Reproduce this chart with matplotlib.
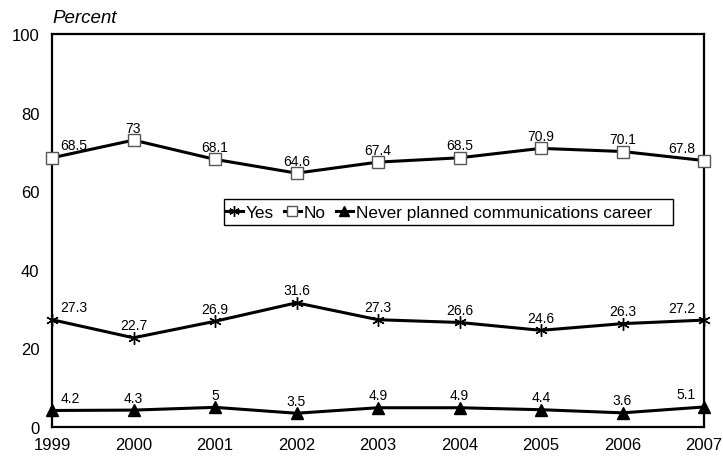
import matplotlib.pyplot as plt
from matplotlib.patches import Rectangle
import numpy as np

plt.rcParams['font.family'] = ['Liberation Sans', 'DejaVu Sans']

years = [1999, 2000, 2001, 2002, 2003, 2004, 2005, 2006, 2007]
yes = [27.3, 22.7, 26.9, 31.6, 27.3, 26.6, 24.6, 26.3, 27.2]
no = [68.5, 73, 68.1, 64.6, 67.4, 68.5, 70.9, 70.1, 67.8]
never = [4.2, 4.3, 5, 3.5, 4.9, 4.9, 4.4, 3.6, 5.1]
labels = ['Yes', 'No', 'Never planned communications career']

fig = plt.figure(figsize=(7.23, 4.6), dpi=100)
ax = fig.add_axes([52/723, 1 - 428/460, 652/723, 393/460])

ax.plot(years, yes, color='black', lw=2.2, marker=(6, 2, 0), ms=9, mew=1,
        label=labels[0], clip_on=False, zorder=3)
ax.plot(years, no, color='black', lw=2.2, marker='s', ms=8.5, mfc='white',
        mec='#555555', mew=1, label=labels[1], clip_on=False, zorder=3)
ax.plot(years, never, color='black', lw=2.2, marker='^', ms=8,
        label=labels[2], clip_on=False, zorder=3)

def fmt(v):
    return ('%g' % v)

for series in (yes, no, never):
    for i, (x, v) in enumerate(zip(years, series)):
        if i == 0:
            ax.annotate(fmt(v), (x, v), xytext=(6, 4), textcoords='offset points',
                        ha='left', va='bottom', fontsize=10)
        elif i == len(years) - 1:
            ax.annotate(fmt(v), (x, v), xytext=(-6, 4), textcoords='offset points',
                        ha='right', va='bottom', fontsize=10)
        else:
            ax.annotate(fmt(v), (x, v), xytext=(0, 4), textcoords='offset points',
                        ha='center', va='bottom', fontsize=10)

ax.set_xlim(1999, 2007)
ax.set_ylim(0, 100)
ax.set_xticks(years)
ax.set_yticks([0, 20, 40, 60, 80, 100])
ax.tick_params(length=0, labelsize=12)
ax.tick_params(axis='y', pad=9)
ax.tick_params(axis='x', pad=7)
for s in ax.spines.values():
    s.set_linewidth(1.6)

ax.text(0.0, 1.02, 'Percent', transform=ax.transAxes, fontsize=13.5,
        style='italic', ha='left', va='bottom')

# legend box (Excel-style, wider than its contents)
ax.add_patch(Rectangle((0.264, 0.514), 0.689, 0.066, transform=ax.transAxes,
                       fill=True, facecolor='white', edgecolor='black', lw=1,
                       zorder=4, clip_on=False))
leg = ax.legend(loc='center left', bbox_to_anchor=(0.266, 0.547), ncol=3,
                frameon=False, fontsize=12.4, markerscale=0.85,
                handlelength=1.0, handletextpad=0.15, columnspacing=0.6,
                borderpad=0.0, borderaxespad=0)
leg.set_zorder(5)

fig.savefig('out.png', dpi=100)
